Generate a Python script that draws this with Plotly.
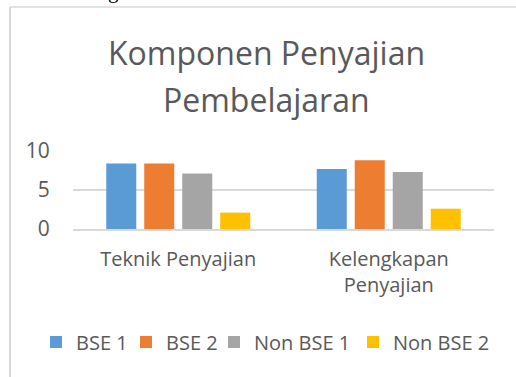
import plotly.graph_objects as go

# --- data ---------------------------------------------------------------
categories = ["Teknik Penyajian", "Kelengkapan<br>Penyajian"]
series_names = ["BSE 1", "BSE 2", "Non BSE 1", "Non BSE 2"]
bse1 = [8.4, 7.7]
bse2 = [8.4, 8.8]
non_bse1 = [7.1, 7.3]
non_bse2 = [2.1, 2.6]
y_ticks = [0, 5, 10]

colors = ["#5B9BD5", "#ED7D31", "#A5A5A5", "#FFC000"]
text_color = "#595959"
font_family = "Open Sans, Lato, sans-serif"

# --- page geometry (px) ----------------------------------------------------
W, H = 516, 377
M_L, M_R, M_T, M_B = 73, 22, 151, 148


def px_x(x):
    return (x - M_L) / (W - M_L - M_R)


def px_y(y):
    return (H - M_B - y) / (H - M_T - M_B)


# each series gets its own legend box so the entries sit in one row
legend_keys = ["legend", "legend2", "legend3", "legend4"]
legend_left_px = [36, 126, 214, 353]

fig = go.Figure()
for name, vals, col, lg in zip(series_names,
                               [bse1, bse2, non_bse1, non_bse2],
                               colors, legend_keys):
    fig.add_trace(go.Bar(x=categories, y=vals, name=name, legend=lg,
                         marker=dict(color=col, line=dict(width=0))))

legend_layout = {}
for lg, lx in zip(legend_keys, legend_left_px):
    legend_layout[lg] = dict(
        orientation="h", x=px_x(lx), xanchor="left",
        y=px_y(342), yanchor="middle",
        font=dict(size=20, color=text_color, family=font_family),
        itemwidth=30, bgcolor="rgba(0,0,0,0)",
    )

fig.update_layout(
    width=W, height=H,
    margin=dict(l=M_L, r=M_R, t=M_T, b=M_B),
    paper_bgcolor="white", plot_bgcolor="white",
    barmode="group", bargap=0.278, bargroupgap=0.21,
    font=dict(family=font_family, color=text_color, size=18),
    showlegend=True,
    **legend_layout,
)

fig.update_yaxes(range=[0, 10], tickvals=y_ticks, showgrid=True,
                 gridcolor="#D9D9D9", gridwidth=1.5, zeroline=False,
                 showline=False, ticks="outside", ticklen=18,
                 tickcolor="rgba(0,0,0,0)",
                 tickfont=dict(size=21, color=text_color), fixedrange=True)
fig.update_xaxes(showgrid=False, showline=True, linecolor="#D9D9D9",
                 linewidth=1.5, ticks="outside", ticklen=11,
                 tickcolor="rgba(0,0,0,0)",
                 tickfont=dict(size=20, color=text_color), fixedrange=True)

# chart title, two centred lines
for txt, yc in [("Komponen Penyajian", 52), ("Pembelajaran", 99)]:
    fig.add_annotation(text=txt, xref="paper", yref="paper",
                       x=px_x(266), y=px_y(yc), xanchor="center",
                       yanchor="middle", showarrow=False,
                       font=dict(size=32, color=text_color,
                                 family=font_family))

# descender of the text line above the chart frame
fig.add_annotation(text="g", xref="paper", yref="paper",
                   x=px_x(113), y=px_y(-9), xanchor="center",
                   yanchor="middle", showarrow=False,
                   font=dict(size=21, color="black",
                             family="Liberation Serif"))

# chart frame: top and left edges
fig.add_shape(type="line", xref="paper", yref="paper",
              x0=px_x(10), x1=px_x(W + 2), y0=px_y(7), y1=px_y(7),
              line=dict(color="#D9D9D9", width=1.5))
fig.add_shape(type="line", xref="paper", yref="paper",
              x0=px_x(10), x1=px_x(10), y0=px_y(7), y1=px_y(H + 2),
              line=dict(color="#D9D9D9", width=2))

fig.write_html("out.html", config={"displayModeBar": False})
